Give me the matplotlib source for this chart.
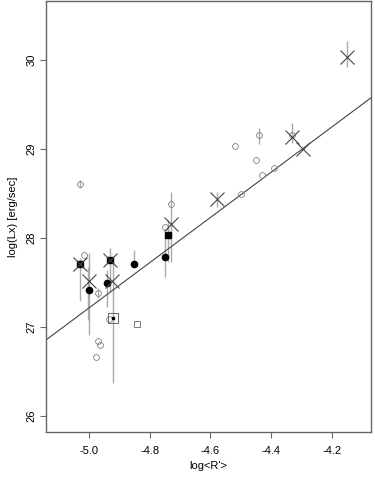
import matplotlib
matplotlib.use("Agg")
import matplotlib.pyplot as plt

plt.rcParams['font.family'] = ['Liberation Sans', 'DejaVu Sans']
plt.rcParams['font.size'] = 8

# open circles
circ_x = [-5.031, -4.731, -4.750, -5.018, -4.972, -4.972, -4.965, -4.978, -4.934,
          -4.519, -4.440, -4.450, -4.431, -4.390, -4.499, -4.330]
circ_y = [28.61, 28.385, 28.127, 27.806, 27.382, 26.843, 26.794, 26.666, 27.087,
          29.03, 29.15, 28.87, 28.71, 28.78, 28.49, 29.16]

# filled circles
dot_x = [-5.000, -4.942, -4.851, -4.751]
dot_y = [27.416, 27.491, 27.704, 27.790]

# filled squares
fsq_x = [-5.032, -4.931, -4.741]
fsq_y = [27.711, 27.749, 28.030]

# open squares (big one and small one)
bigsq_x = [-4.921]
bigsq_y = [27.104]
smsq_x = [-4.843]
smsq_y = [27.030]

# crosses
cross_x = [-5.032, -5.000, -4.931, -4.924, -4.730, -4.579, -4.332, -4.296, -4.148]
cross_y = [27.711, 27.520, 27.749, 27.513, 28.154, 28.435, 29.127, 28.997, 30.034]

# vertical error bars
bar_x = [-5.031, -5.032, -5.000, -5.005, -4.972, -4.941, -4.931, -4.922, -4.851,
         -4.751, -4.741, -4.730, -4.579, -4.440, -4.331, -4.149]
bar_lo = [28.562, 27.292, 26.910, 27.079, 27.326, 27.225, 27.393, 26.371, 27.708,
          27.562, 27.730, 27.730, 28.348, 29.056, 29.067, 29.921]
bar_hi = [28.652, 27.775, 27.831, 27.674, 27.438, 27.640, 27.888, 27.730, 27.865,
          28.011, 28.202, 28.517, 28.517, 29.236, 29.292, 30.213]

# linear fit
fit_slope = 2.534
fit_icpt = 39.886

xticks = [-5.0, -4.8, -4.6, -4.4, -4.2]
yticks = [26, 27, 28, 29, 30]

fig = plt.figure(figsize=(3.75, 4.8), dpi=100)
ax = fig.add_axes([0.1227, 0.1, 0.8666, 0.898])

xmin, xmax = -5.143, -4.070
ax.vlines(bar_x, bar_lo, bar_hi, color='#aaaaaa', lw=1.0, zorder=1)
ax.plot([xmin, xmax], [fit_slope * xmin + fit_icpt, fit_slope * xmax + fit_icpt],
        color='#444444', lw=0.8, zorder=2)

ax.plot(circ_x, circ_y, 'o', ms=4.2, mfc='none', mec='#808080', mew=0.6, zorder=3)
ax.plot(smsq_x, smsq_y, 's', ms=4, mfc='none', mec='#666666', mew=0.6, zorder=3)
ax.plot(bigsq_x, bigsq_y, 's', ms=7, mfc='none', mec='#666666', mew=0.7, zorder=3)
ax.plot(bigsq_x, bigsq_y, 's', ms=1.5, color='black', zorder=3)
ax.plot(dot_x, dot_y, 'o', ms=4.5, color='black', zorder=4)
ax.plot(fsq_x, fsq_y, 's', ms=4.3, color='black', zorder=4)
ax.plot(cross_x, cross_y, 'x', ms=10, mec='#444444', mew=0.8, zorder=5)

ax.set_xlim(xmin, xmax)
ax.set_ylim(25.82, 30.66)
ax.set_xticks(xticks)
ax.set_xticklabels([f'{v:.1f}' for v in xticks])
ax.set_yticks(yticks)
ax.set_yticklabels([str(v) for v in yticks], rotation=90, va='center')

for s in ax.spines.values():
    s.set_color('#666666')
    s.set_linewidth(1.0)
ax.tick_params(direction='out', length=4, width=0.8, color='#666666', labelsize=8)
ax.tick_params(axis='x', pad=6)
ax.tick_params(axis='y', pad=3)

ax.set_xlabel("log<R'>", labelpad=4)
ax.set_ylabel("log(Lx) [erg/sec]", labelpad=6)

fig.savefig('out.png', dpi=100)
